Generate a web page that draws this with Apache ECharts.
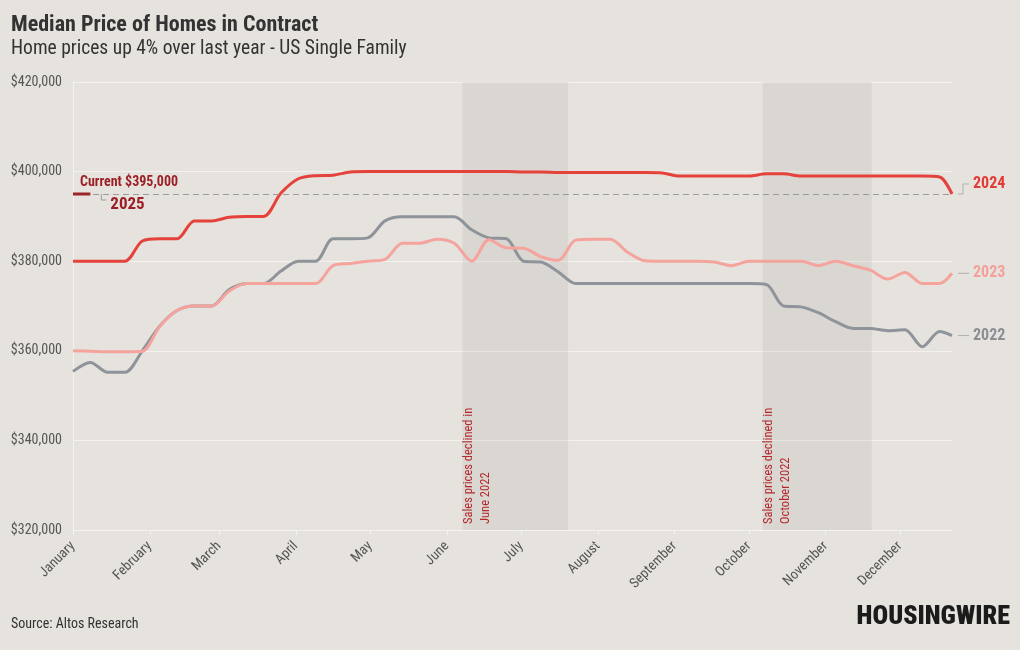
<!DOCTYPE html>
<html><head><meta charset="utf-8">
<script src="https://cdn.jsdelivr.net/npm/echarts@6/dist/echarts.min.js"></script>
<style>html,body{margin:0;padding:0;background:#e6e3df}#c{width:1020px;height:650px}</style>
</head><body><div id="c"></div>
<script>
// ---------- data ----------
const monthNames = ['January','February','March','April','May','June','July','August','September','October','November','December'];
const monthStartDays = [0,31,59,90,120,151,181,212,243,273,304,334];
const days = [0,7,14,21,28,35,42,49,56,63,70,77,84,91,98,105,112,119,126,133,140,147,154,161,168,175,182,189,196,203,210,217,224,231,238,245,252,259,266,273,280,287,294,301,308,315,322,329,336,343,350,355];
const price2022 = [355400,357400,355200,355200,360000,365500,369000,370000,370000,373600,375000,375000,377800,380000,380000,385000,385000,385200,389000,389900,389900,389900,389900,387000,385200,385000,380000,379800,377600,375000,375000,375000,375000,375000,375000,375000,375000,375000,375000,375000,374800,370000,369800,368500,366500,365000,365000,364500,364700,360900,364300,363400];
const price2023 = [360000,359900,359800,359800,359900,365400,369000,370000,370000,373300,375000,375000,375000,375000,375000,379000,379500,380000,380400,384000,384000,384900,384000,380000,384800,383000,382900,381000,380200,384700,384900,384900,382000,380100,380000,380000,380000,379800,379000,380000,380000,380000,380000,379000,380000,379000,378000,376000,377500,375000,375000,377300];
const price2024 = [380000,380000,380000,380000,384500,385000,385000,389000,389000,389800,390000,390000,395200,398400,399100,399200,399900,400000,400000,400000,400000,400000,400000,400000,400000,400000,399900,399900,399800,399800,399800,399800,399800,399800,399700,399000,399000,399000,399000,399000,399500,399500,399000,399000,399000,399000,399000,399000,399000,399000,398800,395000];
const days2025 = [0,7];
const price2025 = [395000,395000];
const currentPrice = 395000;
const seriesNames = ['2022','2023','2024','2025'];
const yMin = 320000, yMax = 420000, yStep = 20000;
const bandStarts = [157.3, 278.5];
const bandEnds = [200, 322.6];
const bandNotes = ['Sales prices declined in\nJune 2022', 'Sales prices declined in\nOctober 2022'];
const titleText = 'Median Price of Homes in Contract';
const subtitleText = 'Home prices up 4% over last year - US Single Family';
const sourceText = 'Source: Altos Research';
const currentText = 'Current $395,000';
const logoText = 'HOUSINGWIRE';

// ---------- chart ----------
const FONT = "'Roboto Condensed','Liberation Sans Narrow','Arial Narrow','DejaVu Sans Condensed',Roboto,sans-serif";
const C2022 = '#8e9499', C2023 = '#f5a39d', C2024 = '#e4423a', C2025 = '#9c2428';
const zip = (xs, ys) => xs.map((x, i) => [x, ys[i]]);

const chart = echarts.init(document.getElementById('c'), null, {renderer: 'canvas'});
const option = {
  animation: false,
  backgroundColor: '#e6e3df',
  textStyle: {fontFamily: FONT},
  title: [
    {text: titleText, left: 11, top: 14, padding: 0, textStyle: {fontFamily: FONT, fontSize: 22, fontWeight: 'bold', color: '#333'}},
    {text: subtitleText, left: 11, top: 39, padding: 0, textStyle: {fontFamily: FONT, fontSize: 19.5, fontWeight: 'normal', color: '#333'}},
    {text: sourceText, left: 11, top: 617, padding: 0, textStyle: {fontFamily: FONT, fontSize: 14, fontWeight: 'normal', color: '#333'}}
  ],
  grid: {left: 73, right: 68, top: 82, bottom: 120},
  xAxis: {
    type: 'value', min: 0, max: days[days.length - 1],
    axisLine: {show: false}, splitLine: {show: false},
    axisTick: {show: true, customValues: monthStartDays, length: 5, lineStyle: {color: '#f4f2ef'}},
    axisLabel: {customValues: monthStartDays, formatter: v => monthNames[monthStartDays.indexOf(v)], rotate: 45, color: '#555', fontSize: 14, margin: 14, fontFamily: FONT}
  },
  yAxis: {
    type: 'value', min: yMin, max: yMax, interval: yStep,
    axisLine: {show: true, lineStyle: {color: '#f4f2ef'}}, axisTick: {show: false},
    splitLine: {lineStyle: {color: '#f4f2ef', width: 1}},
    axisLabel: {formatter: v => '$' + v.toLocaleString('en-US'), color: '#555', fontSize: 14, margin: 11, fontFamily: FONT}
  },
  series: [
    {name: seriesNames[0], type: 'line', data: zip(days, price2022), smooth: 0.3, symbol: 'none',
     lineStyle: {color: C2022, width: 3}, z: 2,
     markArea: {silent: true, itemStyle: {color: 'rgba(0,0,0,0.05)'},
       data: bandStarts.map((s, i) => [{xAxis: s}, {xAxis: bandEnds[i]}])}},
    {name: seriesNames[1], type: 'line', data: zip(days, price2023), smooth: 0.3, symbol: 'none',
     lineStyle: {color: C2023, width: 3}, z: 3},
    {name: seriesNames[2], type: 'line', data: zip(days, price2024), smooth: 0.3, symbol: 'none',
     lineStyle: {color: C2024, width: 3}, z: 4,
     markLine: {silent: true, symbol: ['none', 'none'], label: {show: false},
       lineStyle: {color: '#9a9a9a', type: [6, 4], width: 1}, data: [{yAxis: currentPrice}]}},
    {name: seriesNames[3], type: 'line', data: zip(days2025, price2025), symbol: 'none',
     lineStyle: {color: C2025, width: 3}, z: 5}
  ]
};
chart.setOption(option);

// ---------- annotations placed through the axes ----------
const P = (d, v) => chart.convertToPixel({gridIndex: 0}, [d, v]);
const g = [];
const last = days.length - 1;
const endLabels = [
  {name: seriesNames[2], v: price2024[last], color: '#e23b33', elbow: true},
  {name: seriesNames[1], v: price2023[last], color: '#f4a09a'},
  {name: seriesNames[0], v: price2022[last], color: '#8a8f94'}
];
endLabels.forEach(e => {
  const p = P(days[last], e.v);
  let ty = p[1];
  let pts;
  if (e.elbow) {
    ty = p[1] - 10;
    pts = [[p[0] + 6, p[1]], [p[0] + 11, p[1]], [p[0] + 11, ty], [p[0] + 17, ty]];
  } else {
    pts = [[p[0] + 6, p[1]], [p[0] + 17, p[1]]];
  }
  g.push({type: 'polyline', shape: {points: pts}, style: {stroke: '#b0aeab', lineWidth: 1, fill: null}, z: 10});
  g.push({type: 'text', x: p[0] + 21, y: ty, style: {text: e.name, fill: e.color, fontSize: 16, fontWeight: 'bold', fontFamily: FONT, align: 'left', verticalAlign: 'middle'}, z: 10});
});
// 2025 / current label
const c0 = P(days2025[0], price2025[0]);
const c1 = P(days2025[1], price2025[1]);
g.push({type: 'text', x: c0[0] + 7, y: c0[1] - 12, style: {text: currentText, fill: '#9c1f24', fontSize: 14, fontWeight: 'bold', fontFamily: FONT, align: 'left', verticalAlign: 'middle'}, z: 10});
g.push({type: 'polyline', shape: {points: [[c1[0] + 11, c1[1]], [c1[0] + 11, c1[1] + 6], [c1[0] + 16, c1[1] + 6]]}, style: {stroke: '#9a9a9a', lineWidth: 1, fill: null}, z: 10});
g.push({type: 'text', x: c1[0] + 20, y: c1[1] + 11, style: {text: seriesNames[3], fill: '#9c1f24', fontSize: 17, fontWeight: 'bold', fontFamily: FONT, align: 'left', verticalAlign: 'middle'}, z: 10});
// band notes
bandStarts.forEach((s, i) => {
  const p = P(s, yMin);
  g.push({type: 'text', x: p[0] - 2, y: p[1] - 6, rotation: Math.PI / 2,
    style: {text: bandNotes[i], fill: '#b5292b', fontSize: 12.5, lineHeight: 17, fontFamily: FONT, align: 'left', verticalAlign: 'top'}, z: 10});
});
// logo
g.push({type: 'text', x: 1010, y: 617, style: {text: logoText, fill: '#1b1b1b', fontSize: 26, fontWeight: 900, fontFamily: FONT, align: 'right', verticalAlign: 'middle'}, z: 10});
chart.setOption({graphic: g});
</script>
</body></html>
